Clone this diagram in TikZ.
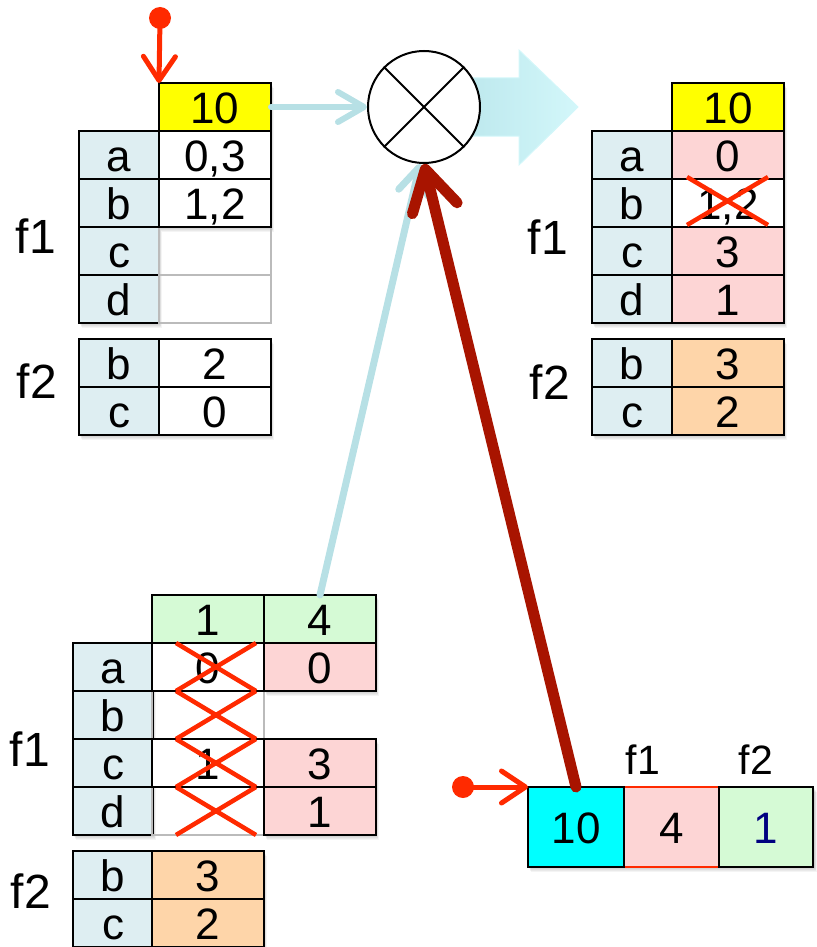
\documentclass[tikz,border=0pt]{standalone}
\usepackage{fontspec}
\setmainfont{Liberation Sans}
\usetikzlibrary{arrows.meta}

\definecolor{keyblue}{HTML}{DEEEF2}
\definecolor{hdryellow}{HTML}{FFFF00}
\definecolor{valpink}{HTML}{FDD5D5}
\definecolor{valpeach}{HTML}{FED5A9}
\definecolor{valgreen}{HTML}{D5FAD5}
\definecolor{boxcyan}{HTML}{00FFFF}
\definecolor{flowblue}{HTML}{B7E0E5}
\definecolor{blockleft}{HTML}{BEE9EE}
\definecolor{blockright}{HTML}{D3F7FA}
\definecolor{markred}{HTML}{FF2A00}
\definecolor{deepred}{HTML}{A81400}
\definecolor{emptygray}{HTML}{BBBBBB}
\definecolor{inknavy}{HTML}{000080}

\tikzset{
  cellbase/.style={minimum height=48pt, inner sep=0pt, outer sep=0pt,
    line width=2pt, text height=33pt, text depth=0pt,
    font=\fontsize{44}{44}\selectfont},
  keycell/.style={cellbase, draw=black, fill=keyblue, minimum width=80pt},
  valcell/.style={cellbase, draw=black, minimum width=112pt},
  emptycell/.style={cellbase, draw=emptygray, line width=1.2pt, minimum width=112pt},
  setlabel/.style={font=\fontsize{48}{48}\selectfont, inner sep=0pt},
  fieldlabel/.style={font=\fontsize{41}{41}\selectfont, inner sep=0pt},
  flowarrow/.style={draw=flowblue, line width=6pt, line cap=round,
    -{Straight Barb[length=26pt, width=30pt, round]}},
  startarrow/.style={draw=markred, line width=5pt, line cap=round,
    -{Straight Barb[length=24pt, width=32pt, round]}},
  strike/.style={draw=markred, line width=4.5pt},
  softshadow/.style={fill=black, opacity=0.045},
}

\begin{document}
\begin{tikzpicture}[x=1pt, y=-1pt]
\useasboundingbox (0,0) rectangle (816,947);

% soft shadows under the table blocks
\foreach \d in {1,2,3,4,5} {
  \fill[softshadow] (79+\d/2,131+\d) rectangle (159+\d/2,323+\d);
  \fill[softshadow] (159+\d/2,83+\d) rectangle (271+\d/2,227+\d);
  \fill[softshadow] (79+\d/2,339+\d) rectangle (271+\d/2,435+\d);
  \fill[softshadow] (592+\d/2,131+\d) rectangle (784+\d/2,323+\d);
  \fill[softshadow] (672+\d/2,83+\d) rectangle (784+\d/2,131+\d);
  \fill[softshadow] (592+\d/2,339+\d) rectangle (784+\d/2,435+\d);
  \fill[softshadow] (73+\d/2,643+\d) rectangle (153+\d/2,835+\d);
  \fill[softshadow] (152+\d/2,595+\d) rectangle (376+\d/2,643+\d);
  \fill[softshadow] (264+\d/2,643+\d) rectangle (376+\d/2,691+\d);
  \fill[softshadow] (264+\d/2,739+\d) rectangle (376+\d/2,835+\d);
  \fill[softshadow] (73+\d/2,851+\d) rectangle (264+\d/2,947+\d);
  \fill[softshadow] (528+\d/2,787+\d) rectangle (814+\d/2,867+\d);
}

% wide output arrow behind the operator
\shade[left color=blockleft, right color=blockright, draw=blockright, line width=1pt]
  (472,78) -- (519,78) -- (519,50) -- (578,107) -- (519,165) -- (519,136) -- (472,136) -- cycle;

% ---------- input state (top left) ----------
\node[setlabel] (tl-f1) at (36,236) {f1};
\node[setlabel] (tl-f2) at (37,381) {f2};
\node[valcell, fill=hdryellow] (tl-h) at (215,107) {10};
\node[keycell] (tl-ka) at (119,155) {a};
\node[keycell] (tl-kb) at (119,203) {b};
\node[keycell] (tl-kc) at (119,251) {c};
\node[keycell] (tl-kd) at (119,299) {d};
\node[emptycell] (tl-vc) at (215,251) {};
\node[emptycell] (tl-vd) at (215,299) {};
\node[valcell, fill=white] (tl-va) at (215,155) {0,3};
\node[valcell, fill=white] (tl-vb) at (215,203) {1,2};
\node[keycell] (tl-gb) at (119,363) {b};
\node[keycell] (tl-gc) at (119,411) {c};
\node[valcell, fill=white] (tl-wb) at (215,363) {2};
\node[valcell, fill=white] (tl-wc) at (215,411) {0};

% ---------- result state (top right) ----------
\node[setlabel] (tr-f1) at (548,237) {f1};
\node[setlabel] (tr-f2) at (550,382) {f2};
\node[valcell, fill=hdryellow] (tr-h) at (728,107) {10};
\node[keycell] (tr-ka) at (632,155) {a};
\node[keycell] (tr-kb) at (632,203) {b};
\node[keycell] (tr-kc) at (632,251) {c};
\node[keycell] (tr-kd) at (632,299) {d};
\node[valcell, fill=valpink] (tr-va) at (728,155) {0};
\node[valcell, fill=white] (tr-vb) at (728,203) {1,2};
\node[valcell, fill=valpink] (tr-vc) at (728,251) {3};
\node[valcell, fill=valpink] (tr-vd) at (728,299) {1};
\node[keycell] (tr-gb) at (632,363) {b};
\node[keycell] (tr-gc) at (632,411) {c};
\node[valcell, fill=valpeach] (tr-wb) at (728,363) {3};
\node[valcell, fill=valpeach] (tr-wc) at (728,411) {2};

% ---------- delta (bottom left) ----------
\node[setlabel] (bl-f1) at (30,749) {f1};
\node[setlabel] (bl-f2) at (31,891) {f2};
\node[valcell, fill=valgreen] (bl-h1) at (208,619) {1};
\node[valcell, fill=valgreen] (bl-h4) at (320,619) {4};
\node[keycell] (bl-ka) at (113,667) {a};
\node[keycell] (bl-kb) at (113,715) {b};
\node[keycell] (bl-kc) at (113,763) {c};
\node[keycell] (bl-kd) at (113,811) {d};
\node[emptycell] (bl-ob) at (208,715) {};
\node[emptycell] (bl-od) at (208,811) {};
\node[valcell, fill=white] (bl-oa) at (208,667) {0};
\node[valcell, fill=white] (bl-oc) at (208,763) {1};
\node[valcell, fill=valpink] (bl-na) at (320,667) {0};
\node[valcell, fill=valpink] (bl-nc) at (320,763) {3};
\node[valcell, fill=valpink] (bl-nd) at (320,811) {1};
\node[keycell] (bl-gb) at (113,875) {b};
\node[keycell] (bl-gc) at (113,923) {c};
\node[valcell, fill=valpeach] (bl-wb) at (208,875) {3};
\node[valcell, fill=valpeach] (bl-wc) at (208,923) {2};

% ---------- record (bottom right) ----------
\node[fieldlabel] (br-l1) at (643,760) {f1};
\node[fieldlabel] (br-l2) at (756,760) {f2};
\node[cellbase, fill=valpink, minimum width=95pt, minimum height=80pt] (br-f1) at (671.5,827) {4};
\draw[markred, line width=2pt] (br-f1.north west) -- (br-f1.north east);
\draw[markred, line width=2pt] (br-f1.south west) -- (br-f1.south east);
\node[cellbase, draw=black, fill=boxcyan, minimum width=96pt, minimum height=80pt] (br-t) at (576,827) {10};
\node[cellbase, draw=black, fill=valgreen, minimum width=94pt, minimum height=80pt, text=inknavy] (br-f2) at (766,827) {1};

% ---------- operator ----------
\node[circle, draw=black, fill=white, line width=2pt, minimum size=112pt, inner sep=0pt] (mul) at (424,107) {};
\draw[line width=2pt] (mul.north west) -- (mul.south east);
\draw[line width=2pt] (mul.north east) -- (mul.south west);

% ---------- connectors ----------
\draw[flowarrow] (tl-h.east) -- (mul.west);
\draw[flowarrow, line width=7pt] (bl-h4.north) -- (mul.-94);
\draw[deepred, line width=11pt, line cap=round,
      -{Straight Barb[length=40pt, width=46pt, round]}] (br-t.north) -- (mul.south);

\coordinate (tl-dot) at (160,18);
\coordinate (br-dot) at (463,787);
\fill[markred] (tl-dot) circle (11pt);
\fill[markred] (br-dot) circle (11pt);
\draw[startarrow] (tl-dot) -- (tl-h.north west);
\draw[startarrow] (br-dot) -- (br-t.north west);

% ---------- strike marks ----------
\draw[strike] (687,177) -- (768,225);
\draw[strike] (687,225) -- (768,177);
\foreach \r in {643,691,739,787} {
  \draw[strike] (176,\r) -- (256,\r+48);
  \draw[strike] (176,\r+48) -- (256,\r);
}
\end{tikzpicture}
\end{document}
